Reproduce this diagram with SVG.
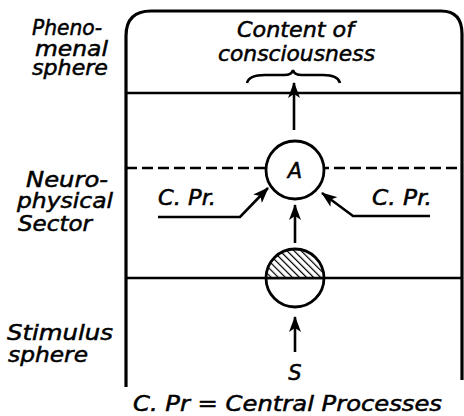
<svg xmlns="http://www.w3.org/2000/svg" width="464" height="416" viewBox="0 0 464 416">
<style>
.t{font-family:"DejaVu Sans",sans-serif;font-style:italic;font-size:21px;fill:#000;stroke:#000;stroke-width:0.5}
.ln{stroke:#000;stroke-width:2.6;fill:none}
.bd{stroke:#000;stroke-width:3.2;fill:none}
</style>
<defs>
<marker id="ah" viewBox="0 0 16 12" refX="15" refY="6" markerWidth="16" markerHeight="12" markerUnits="userSpaceOnUse" orient="auto">
<path d="M0,0 L16,6 L0,12 L4,6 Z" fill="#000"/>
</marker>
<pattern id="hatch" patternUnits="userSpaceOnUse" width="5" height="5" patternTransform="rotate(-45)">
<rect width="5" height="5" fill="#fff"/>
<line x1="0" y1="0" x2="0" y2="5" stroke="#000" stroke-width="2.4"/>
</pattern>
</defs>
<rect width="464" height="416" fill="#fff"/>
<g id="frame">
<path class="bd" d="M126,387 V36 Q126,11 151,11 H441 Q462,11 462,34 V380"/>
<line class="ln" x1="126" y1="93" x2="462" y2="93"/>
<line class="ln" x1="126" y1="168" x2="462" y2="168" stroke-dasharray="11,5"/>
<line class="ln" x1="126" y1="278" x2="462" y2="278"/>
</g>
<g id="labels">
<text class="t" x="32" y="35" textLength="70" lengthAdjust="spacingAndGlyphs">Pheno-</text>
<text class="t" x="35" y="56" textLength="73" lengthAdjust="spacingAndGlyphs">menal</text>
<text class="t" x="32" y="75" textLength="76" lengthAdjust="spacingAndGlyphs">sphere</text>
<text class="t" x="26" y="187" textLength="82" lengthAdjust="spacingAndGlyphs">Neuro-</text>
<text class="t" x="17" y="208" textLength="96" lengthAdjust="spacingAndGlyphs">physical</text>
<text class="t" x="18" y="231" textLength="74" lengthAdjust="spacingAndGlyphs">Sector</text>
<text class="t" x="7" y="340" textLength="106" lengthAdjust="spacingAndGlyphs">Stimulus</text>
<text class="t" x="8" y="362" textLength="80" lengthAdjust="spacingAndGlyphs">sphere</text>
</g>
<g id="content">
<text class="t" x="237" y="37" textLength="117" lengthAdjust="spacingAndGlyphs">Content of</text>
<text class="t" x="218" y="61" textLength="157" lengthAdjust="spacingAndGlyphs">consciousness</text>
<path class="ln" stroke-width="2.2" d="M247,83 Q249,75 265,75 H284 Q292,75 293,70 Q294,75 302,75 H323 Q338,75 340,83"/>
</g>
<g id="nodeA">
<circle cx="295" cy="170" r="29" fill="#fff" stroke="#000" stroke-width="2.8"/>
<text class="t" x="295" y="178" text-anchor="middle" font-size="22">A</text>
</g>
<g id="nodeR">
<path d="M266,278 A29,29 0 0 1 324,278 Z" fill="url(#hatch)"/>
<circle cx="295" cy="278" r="29" fill="none" stroke="#000" stroke-width="2.8"/>
<line class="ln" x1="266" y1="278" x2="324" y2="278"/>
</g>
<g id="nodeS">
<text class="t" x="295" y="380" text-anchor="middle" font-size="22">S</text>
</g>
<g id="cpr">
<text class="t" x="158" y="205" textLength="58" lengthAdjust="spacingAndGlyphs">C. Pr.</text>
<text class="t" x="372" y="205" textLength="60" lengthAdjust="spacingAndGlyphs">C. Pr.</text>
</g>
<g id="connectors">
<line class="ln" x1="294" y1="130" x2="294" y2="83" marker-end="url(#ah)"/>
<line class="ln" x1="295" y1="243" x2="295" y2="205" marker-end="url(#ah)"/>
<line class="ln" x1="295" y1="352" x2="295" y2="317" marker-end="url(#ah)"/>
<path class="ln" d="M158,217 H240 L268,188" marker-end="url(#ah)"/>
<path class="ln" d="M430,216 H353 L322,193" marker-end="url(#ah)"/>
</g>
<g id="legend">
<text class="t" x="133" y="411" textLength="309" lengthAdjust="spacingAndGlyphs">C. Pr = Central Processes</text>
</g>
</svg>
